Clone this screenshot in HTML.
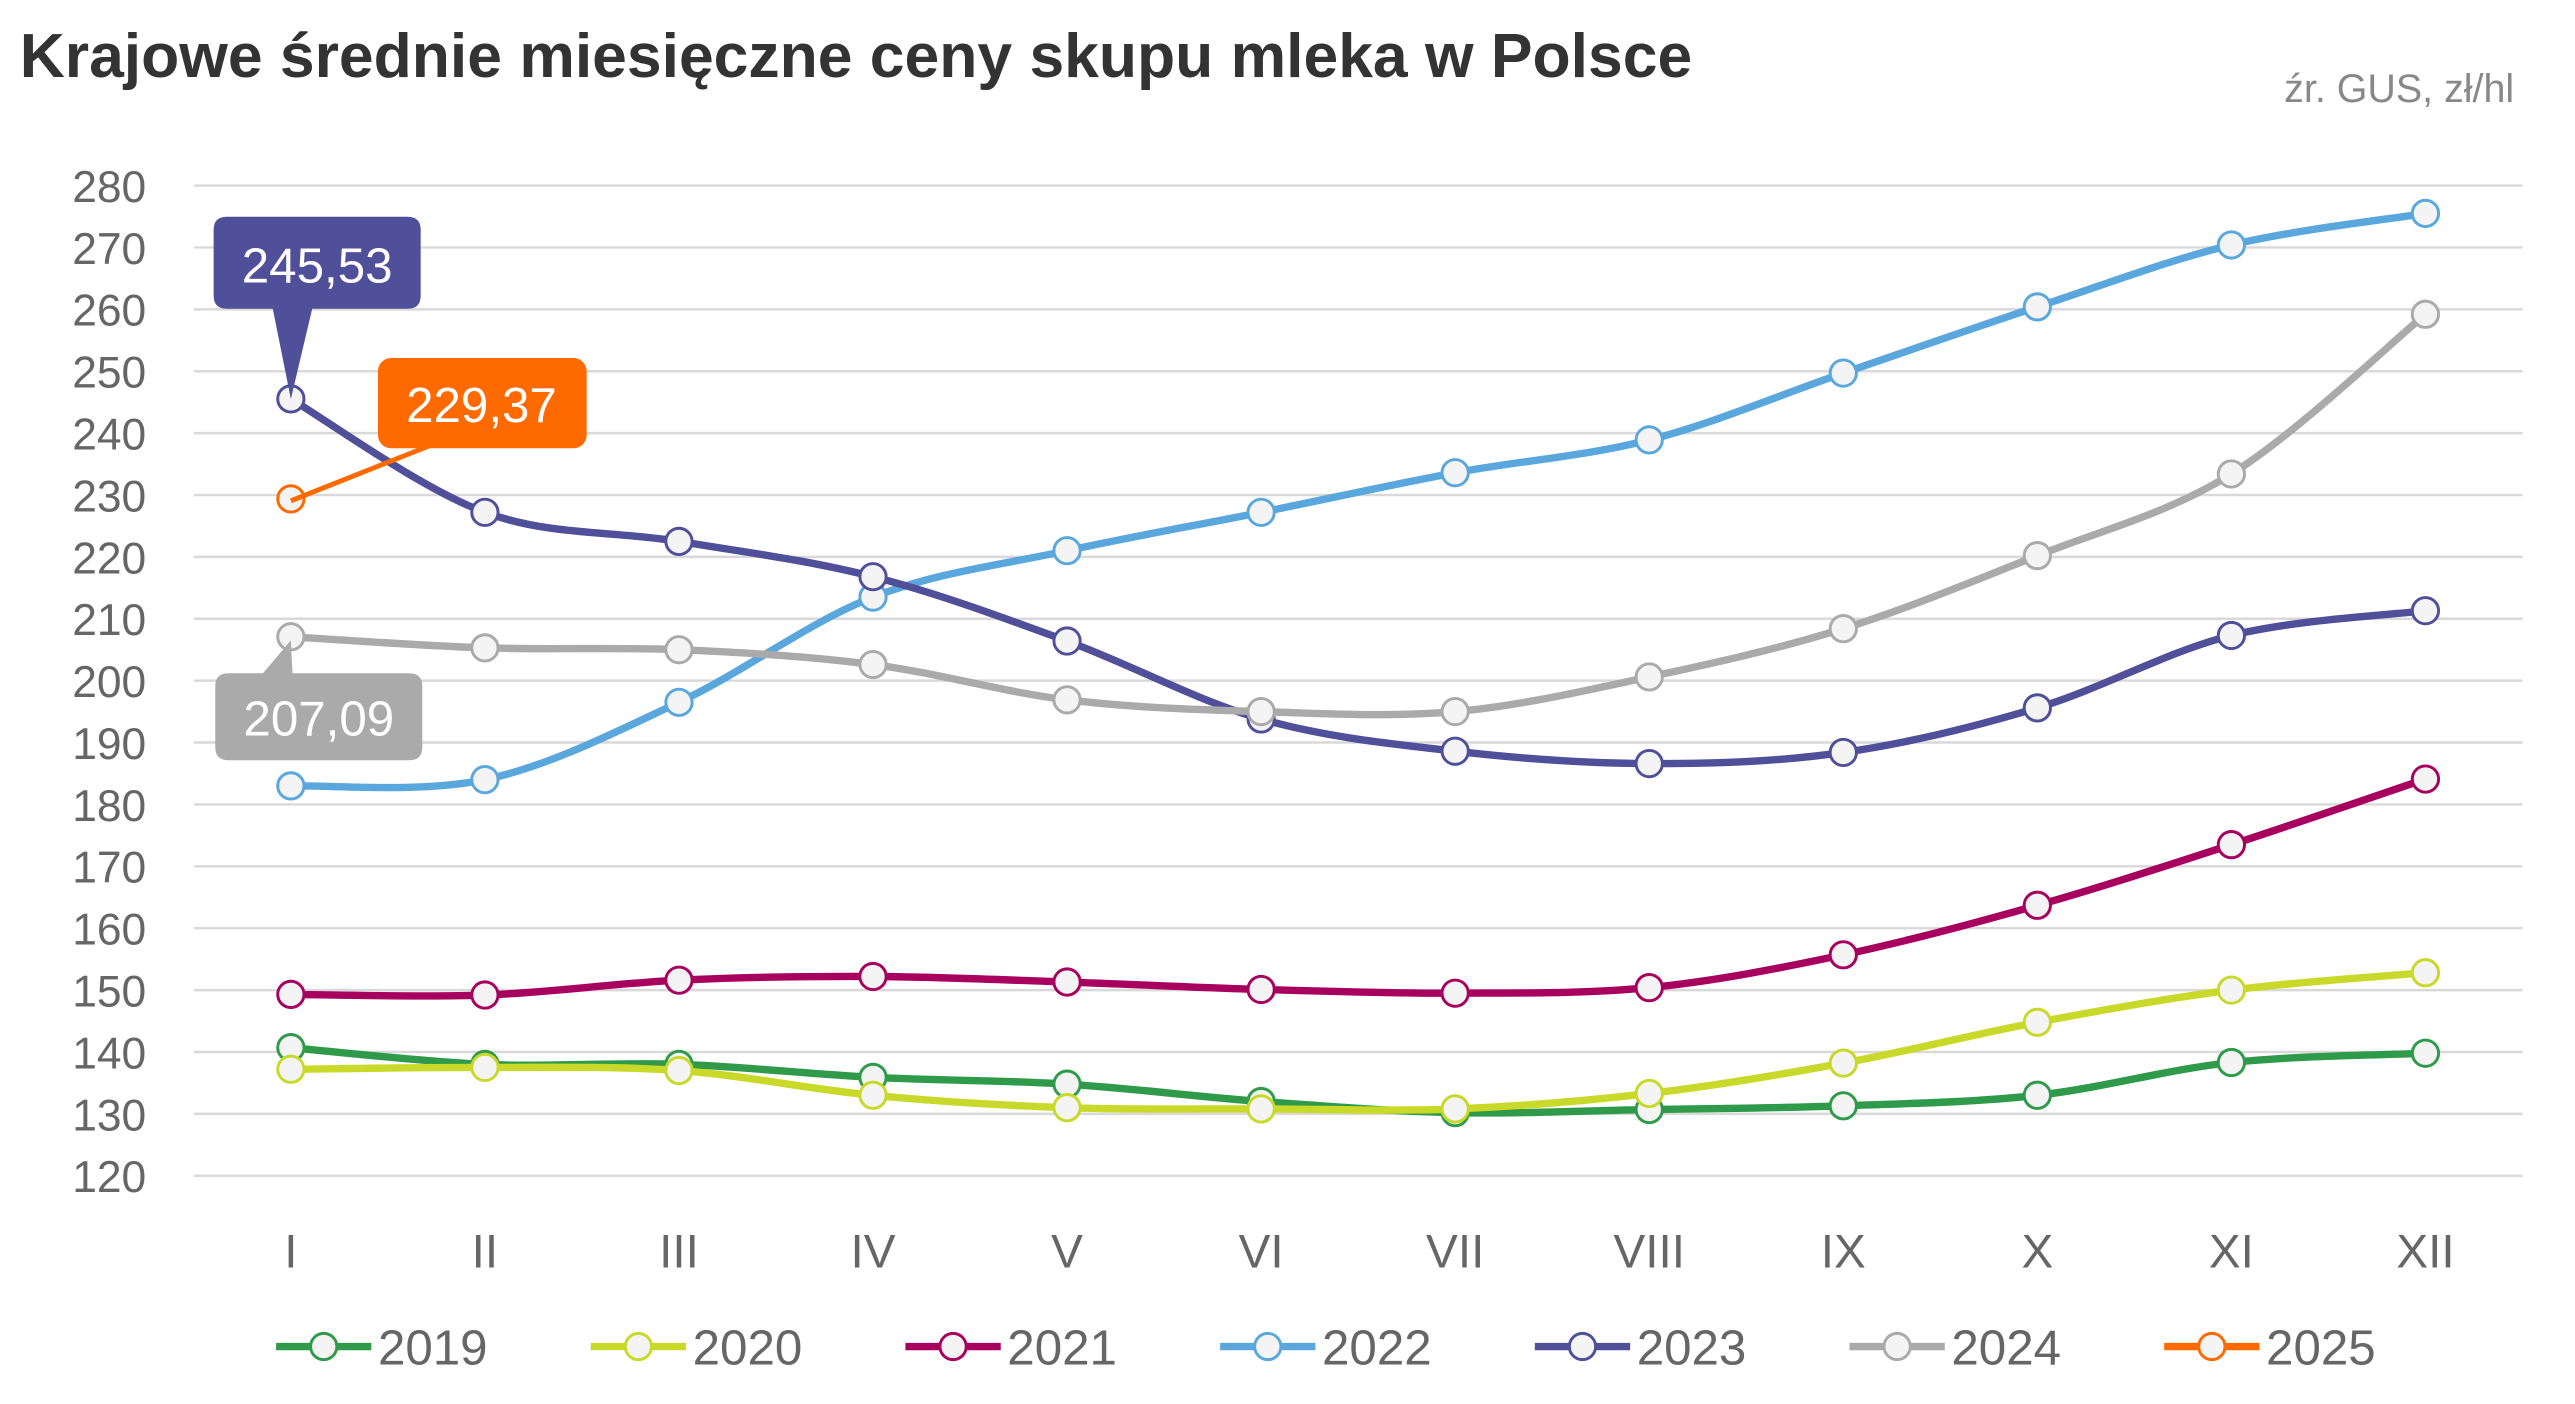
<!DOCTYPE html>
<html><head><meta charset="utf-8">
<style>
html,body{margin:0;padding:0;background:#fff;}
svg{display:block;}
text{font-family:"Liberation Sans","DejaVu Sans",sans-serif;}
</style></head>
<body>
<svg id="c" width="2575" height="1404" viewBox="0 0 1567 855" preserveAspectRatio="none" xmlns="http://www.w3.org/2000/svg">
<rect width="1567" height="855" fill="#fff"/>
<text x="12" y="47" font-size="38" font-weight="bold" fill="#333">Krajowe średnie miesięczne ceny skupu mleka w Polsce</text>
<text x="1530" y="62" font-size="24" fill="#888" text-anchor="end">źr. GUS, zł/hl</text>
<g id="grid"></g>
<g id="series"></g>
<g id="legend"></g>
<path d="M130 140 Q130 132 138 132 L248 132 Q256 132 256 140 L256 180 Q256 188 248 188 L190 188 L177 243 L166 188 L138 188 Q130 188 130 180 Z" fill="#4f4f9a"/>
<text x="193" y="172" font-size="30" fill="#fff" text-anchor="middle">245,53</text>
<line x1="177" y1="305" x2="265" y2="270" stroke="#ff6a00" stroke-width="3"/>
<rect x="230" y="218" width="127" height="55" rx="8" fill="#ff6a00"/>
<text x="293" y="257" font-size="30" fill="#fff" text-anchor="middle">229,37</text>
<path d="M139 410 L160 410 L177 390 L178 410 L249 410 Q257 410 257 418 L257 455 Q257 463 249 463 L139 463 Q131 463 131 455 L131 418 Q131 410 139 410 Z" fill="#aaaaaa"/>
<text x="194" y="448" font-size="30" fill="#fff" text-anchor="middle">207,09</text>
</svg>
<script>
var ns="http://www.w3.org/2000/svg";
function el(p,t,a,txt){var e=document.createElementNS(ns,t);for(var k in a)e.setAttribute(k,a[k]);if(txt!==undefined)e.textContent=txt;p.appendChild(e);return e;}
var X0=177,DX=118.09,Y120=716,PX=(716-113)/160;
function yv(v){return Y120-(v-120)*PX;}
var g=document.getElementById('grid');
for(var v=120;v<=280;v+=10){var y=yv(v);
 el(g,'line',{x1:118,x2:1535,y1:y,y2:y,stroke:'#d9d9d9','stroke-width':1.5});
 el(g,'text',{x:89,y:y+10,'font-size':27,fill:'#666','text-anchor':'end'},String(v));}
var mons=['I','II','III','IV','V','VI','VII','VIII','IX','X','XI','XII'];
mons.forEach(function(m,i){el(g,'text',{x:X0+i*DX,y:772,'font-size':29,fill:'#666','text-anchor':'middle'},m);});
var S=[
['2019','#2e9a4a',[140.7,138,138,135.9,134.8,132,130.2,130.7,131.3,133,138.3,139.8]],
['2020','#c9d92a',[137.2,137.5,137,133,131,130.8,130.8,133.3,138.2,144.8,150,152.8]],
['2021','#a8005f',[149.3,149.2,151.6,152.2,151.3,150.1,149.5,150.4,155.7,163.7,173.5,184.1]],
['2022','#5aa7dd',[183,184,196.5,213.5,221,227.2,233.6,238.9,249.7,260.4,270.4,275.5]],
['2023','#4f4f9a',[245.53,227.2,222.5,216.8,206.4,193.8,188.6,186.6,188.4,195.6,207.3,211.3]],
['2024','#aaaaaa',[207.09,205.3,205,202.6,196.9,195,195,200.6,208.4,220.2,233.4,259.2]],
['2025','#ff6a00',[229.37]]];
var sg=document.getElementById('series');
S.forEach(function(s){
 var p=s[2].map(function(v,i){return [X0+i*DX,yv(v)];});
 if(p.length>1){var d='M'+p[0][0]+' '+p[0][1];
  for(var i=0;i<p.length-1;i++){var p0=p[i-1]||p[i],p1=p[i],p2=p[i+1],p3=p[i+2]||p2,t=6;
   d+=' C'+(p1[0]+(p2[0]-p0[0])/t)+' '+(p1[1]+(p2[1]-p0[1])/t)+' '+(p2[0]-(p3[0]-p1[0])/t)+' '+(p2[1]-(p3[1]-p1[1])/t)+' '+p2[0]+' '+p2[1];}
  el(sg,'path',{d:d,fill:'none',stroke:s[1],'stroke-width':4.5,'stroke-linecap':'round'});}
 p.forEach(function(q){el(sg,'circle',{cx:q[0],cy:q[1],r:8,fill:'#f4f4f4',stroke:s[1],'stroke-width':1.8});});
});
var lg=document.getElementById('legend');
S.forEach(function(s,i){var x=168+i*191.5,y=820;
 el(lg,'line',{x1:x,x2:x+58,y1:y,y2:y,stroke:s[1],'stroke-width':4.5});
 el(lg,'circle',{cx:x+29,cy:y,r:8,fill:'#f4f4f4',stroke:s[1],'stroke-width':1.8});
 el(lg,'text',{x:x+62,y:y+11,'font-size':30,fill:'#666'},s[0]);});
</script>
</body></html>
